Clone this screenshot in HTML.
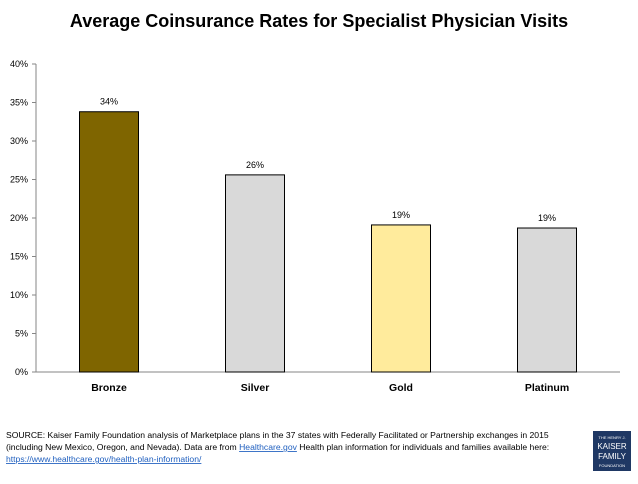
<!DOCTYPE html>
<html><head><meta charset="utf-8"><style>
body{margin:0;background:#fff;}
svg text{font-family:"Liberation Sans",sans-serif;}
</style></head><body>
<svg width="638" height="479" viewBox="0 0 638 479">
<text x="319" y="27" text-anchor="middle" font-size="18" font-weight="bold" fill="#000">Average Coinsurance Rates for Specialist Physician Visits</text>
<g id="axes"></g>
<g id="bars"></g>
<g font-size="8.6" fill="#000">
<text x="6" y="438">SOURCE: Kaiser Family Foundation analysis of Marketplace plans in the 37 states with Federally Facilitated or Partnership exchanges in 2015</text>
<text x="6" y="450">(including New Mexico, Oregon, and Nevada). Data are from <tspan fill="#1f5fbf" text-decoration="underline">Healthcare.gov</tspan> Health plan information for individuals and families available here:</text>
<text x="6" y="462" fill="#1f5fbf" text-decoration="underline">https://www.healthcare.gov/health-plan-information/</text>
</g>
<g>
<rect x="593" y="431" width="38" height="40" fill="#1f3864"/>
<text x="612" y="439" text-anchor="middle" font-size="4" fill="#fff">THE HENRY J.</text>
<text x="612" y="449" text-anchor="middle" font-size="8" fill="#fff" font-family="Liberation Serif">KAISER</text>
<text x="612" y="459" text-anchor="middle" font-size="8" fill="#fff" font-family="Liberation Serif">FAMILY</text>
<text x="612" y="467" text-anchor="middle" font-size="4" fill="#fff">FOUNDATION</text>
</g>
</svg>
<script>
const categories=["Bronze","Silver","Gold","Platinum"];
const values=[33.8,25.6,19.1,18.7];
const valueLabels=["34%","26%","19%","19%"];
const colors=["#7f6500","#d9d9d9","#ffeb9c","#d9d9d9"];
const ticks=[0,5,10,15,20,25,30,35,40];
const NS="http://www.w3.org/2000/svg";
const x0=36,x1=620,y0=372,yTop=64,ymax=40;
const yS=v=>y0-(y0-yTop)*v/ymax;
const band=(x1-x0)/categories.length;
const xS=i=>x0+band*i+band/2;
function mk(t,a,p){const e=document.createElementNS(NS,t);for(const k in a)e.setAttribute(k,a[k]);p.appendChild(e);return e;}
const ax=document.getElementById('axes'),bg=document.getElementById('bars');
const yl=mk('line',{x1:x0,y1:yTop,x2:x0,y2:y0,stroke:'#868686'},ax);


const xl=mk('line',{x1:x0,y1:y0,x2:x1,y2:y0,stroke:'#868686'},ax);


ticks.forEach(t=>{
 mk('line',{x1:x0-4,x2:x0,y1:yS(t),y2:yS(t),stroke:'#868686'},ax);
 const tx=mk('text',{x:x0-8,y:yS(t)+3,'text-anchor':'end','font-size':'9',fill:'#000'},ax);
 tx.textContent=t+'%';
 
 
});
categories.forEach((c,i)=>{
 const w=59,cx=xS(i);
 const r=mk('rect',{x:cx-w/2,y:yS(values[i]),width:w,height:y0-yS(values[i]),fill:colors[i],stroke:'#000','stroke-width':1},bg);
 
 
 const vl=mk('text',{x:cx,y:yS(values[i])-7,'text-anchor':'middle','font-size':'9',fill:'#000'},bg);
 vl.textContent=valueLabels[i];
 
 
 const cl=mk('text',{x:cx,y:y0+19,'text-anchor':'middle','font-size':'10.5','font-weight':'bold',fill:'#000'},bg);
 cl.textContent=c;
 
 
});
</script>
</body></html>
